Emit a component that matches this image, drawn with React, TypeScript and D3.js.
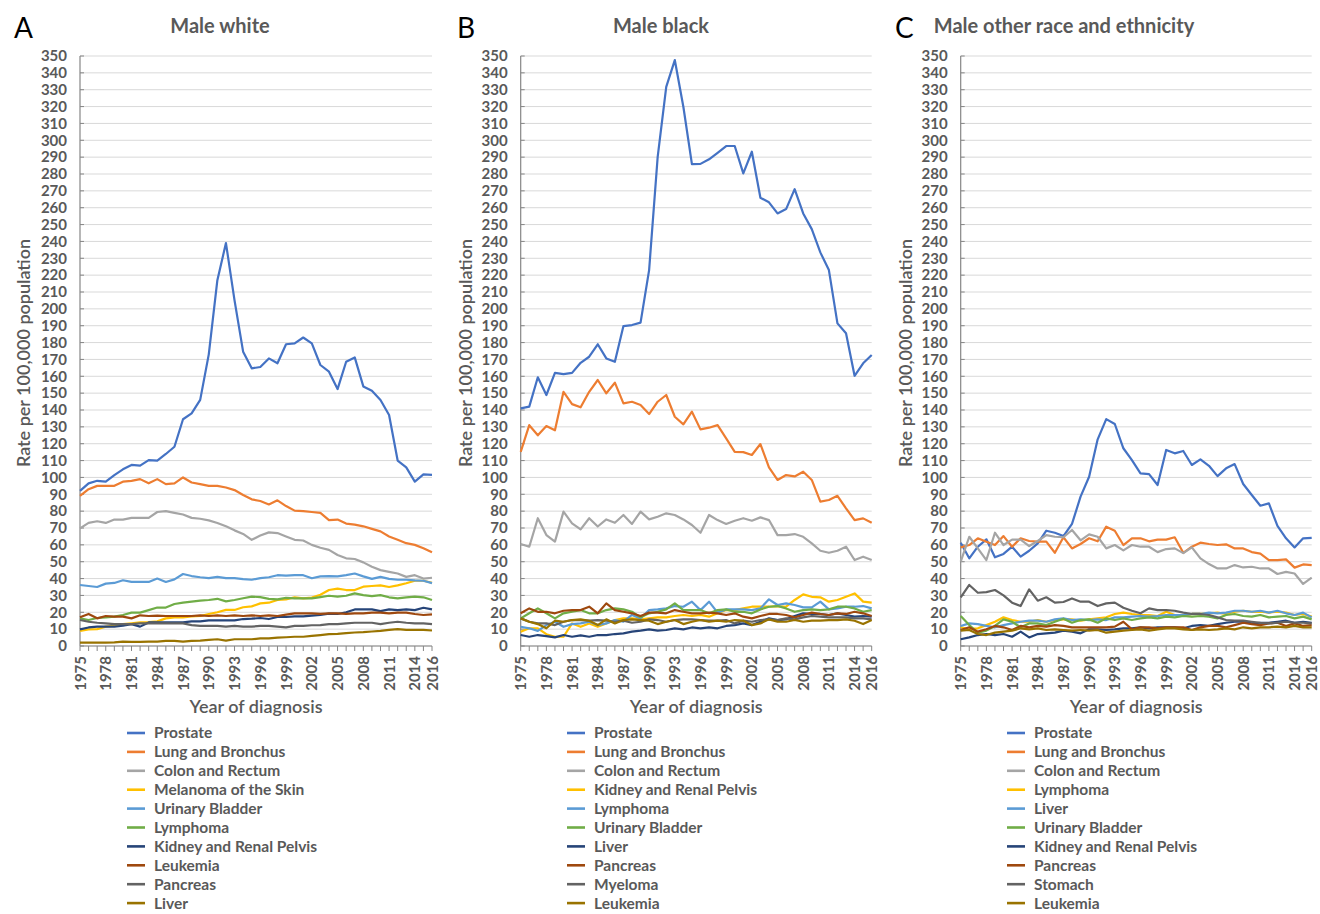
import React from "react";
import * as d3 from "d3";

// categories
const years = [
  1975, 1976, 1977, 1978, 1979, 1980, 1981, 1982, 1983, 1984, 1985, 1986, 1987, 1988,
  1989, 1990, 1991, 1992, 1993, 1994, 1995, 1996, 1997, 1998, 1999, 2000, 2001, 2002,
  2003, 2004, 2005, 2006, 2007, 2008, 2009, 2010, 2011, 2012, 2013, 2014, 2015, 2016,
];
const tickYears = [1975, 1978, 1981, 1984, 1987, 1990, 1993, 1996, 1999, 2002, 2005, 2008, 2011, 2014, 2016];

const palette = ["#4472C4", "#ED7D31", "#A5A5A5", "#FFC000", "#5B9BD5", "#70AD47", "#264478", "#9E480E", "#636363", "#997300"];

// ---- Panel A: male white
const namesA = ["Prostate", "Lung and Bronchus", "Colon and Rectum", "Melanoma of the Skin", "Urinary Bladder", "Lymphoma", "Kidney and Renal Pelvis", "Leukemia", "Pancreas", "Liver"];
const prostateA = [92, 96.5, 98, 97.5, 101.4, 104.8, 107.4, 107, 110.3, 110, 113.9, 118.2, 134.5, 138, 146, 173, 217, 239, 205, 174.6, 164.7, 165.5, 170.6, 167.7, 179, 179.5, 183, 179.5, 166.7, 162.7, 152.4, 168.6, 171.2, 154, 151.4, 145.9, 137, 110, 106, 97.5, 101.8, 101.5];
const lungA = [89, 93, 95, 95, 95, 97.5, 98, 99, 96.5, 99, 96, 96.5, 100, 97, 96, 95, 95, 94, 92.5, 89.6, 87, 86, 84, 86.4, 83, 80.3, 80, 79.5, 79, 74.7, 75, 72.6, 72, 71, 69.5, 68, 65, 63, 61, 60, 58, 55.6];
const colonA = [69.8, 73, 74, 73, 75, 75, 76, 76, 76, 79.5, 80, 79, 78, 76, 75.5, 74.5, 73, 71, 68.6, 66.5, 63, 65.5, 67.4, 67, 65, 63, 62.6, 60, 58.3, 57, 54, 52, 51.6, 49.6, 47, 45, 44, 43, 41, 42, 40, 40.5];
const melanomaA = [8.9, 9.9, 10, 11.5, 12, 13, 13.5, 14, 14.2, 14.6, 16.4, 17, 17, 17.5, 17.8, 19, 20, 21.4, 21.4, 23, 23.5, 25.3, 25.7, 27.3, 27.7, 28.9, 28.3, 28.7, 30.4, 33.2, 34, 33.2, 33.2, 35.2, 35.6, 36, 35, 36, 37.2, 38.7, 38.7, 37.5];
const bladderA = [36.2, 35.6, 35, 37, 37.4, 39, 38, 38, 38, 40, 38, 39.5, 42.7, 41.5, 40.8, 40.3, 41, 40.3, 40.3, 39.7, 39.3, 40.3, 40.8, 42, 41.7, 42, 42, 40.2, 41.3, 41.5, 41.3, 42, 43, 41.3, 39.8, 41, 39.8, 39.3, 39.3, 38.9, 38.7, 37.3];
const lymphomaA = [16.4, 15.4, 16.6, 17, 17.4, 18.4, 19.8, 19.8, 21.3, 22.8, 22.8, 24.9, 25.7, 26.3, 26.9, 27.3, 28, 26.5, 27.3, 28.3, 29.3, 29, 28, 27.7, 28.5, 28.3, 28.3, 28.3, 29, 29.8, 29.3, 29.8, 31.2, 30.2, 29.6, 30.2, 28.9, 28.3, 28.9, 29.3, 28.9, 27.3];
const kidneyA = [9.9, 11, 11.5, 11.5, 11.5, 12, 13, 11.5, 14, 14, 14, 14, 14, 14.6, 14.6, 15.2, 15.2, 15.2, 15.2, 16, 16.2, 16.6, 16, 17.2, 17.2, 17.6, 17.6, 18, 18.4, 19.2, 19, 20, 21.7, 21.7, 21.7, 20.7, 21.7, 21.3, 21.7, 21.3, 22.7, 21.7];
const leukemiaA = [17, 19, 16.4, 17.8, 17.4, 17.4, 16.4, 18.2, 17.8, 18, 17.8, 17.8, 17.8, 17.8, 18.2, 17.8, 18.2, 17.8, 18.2, 17.8, 18.2, 17.8, 18.2, 17.8, 18.6, 19.4, 19.4, 19.4, 19, 19.4, 19.4, 19, 19.4, 19.4, 19.8, 19.8, 19.4, 19.8, 19.8, 19, 18.4, 18.8];
const pancreasA = [15.4, 14.4, 13.8, 13.4, 13, 13, 13, 13.4, 13.4, 13.4, 13.4, 13.4, 13.4, 12.4, 11.9, 11.9, 11.9, 11.5, 11.9, 11.5, 11.5, 11.9, 11.9, 11.5, 11, 11.9, 11.9, 12.3, 12.4, 13, 13, 13.4, 13.8, 13.8, 13.8, 13, 13.8, 14.4, 13.8, 13.4, 13.4, 13];
const liverA = [2, 2, 2, 2, 2.2, 2.6, 2.4, 2.4, 2.6, 2.6, 3, 3, 2.6, 3, 3.2, 3.6, 4, 3.2, 4, 4, 4, 4.5, 4.5, 5, 5.2, 5.5, 5.5, 6, 6.5, 7, 7.2, 7.6, 8, 8.2, 8.6, 9, 9.6, 10, 9.6, 9.6, 9.6, 9.2];

// ---- Panel B: male black
const namesB = ["Prostate", "Lung and Bronchus", "Colon and Rectum", "Kidney and Renal Pelvis", "Lymphoma", "Urinary Bladder", "Liver", "Pancreas", "Myeloma", "Leukemia"];
const prostateB = [141, 142, 159.4, 148.9, 162, 161.3, 162, 168, 171.6, 179, 170.6, 168.6, 189.8, 190.4, 191.8, 223, 290.2, 331.7, 347.6, 319.9, 285.9, 286, 288.7, 292.6, 296.6, 296.6, 280.4, 293.2, 265.9, 263.2, 256.6, 259.2, 271, 256.6, 247.3, 233.5, 223, 191.4, 185.5, 160.3, 167.7, 172.6];
const lungB = [115.2, 131, 125, 130.5, 128, 150.8, 143.5, 141.6, 150.8, 157.8, 149.9, 156.2, 143.9, 144.9, 143, 137.6, 144.9, 148.9, 136, 131.5, 139, 128.5, 129.5, 131, 123.2, 115.2, 115, 113.3, 119.8, 106, 98.5, 101.4, 100.6, 103.4, 98.5, 85.6, 86.6, 89.1, 81.7, 74.7, 75.7, 73.1];
const colonB = [60.5, 58.9, 75.8, 65.8, 61.9, 79.7, 72.8, 69.2, 75.8, 70.9, 75.1, 73.1, 77.7, 72.4, 79.7, 75.1, 76.7, 78.7, 77.7, 75.1, 71.8, 67.2, 77.7, 74.7, 72.4, 74.3, 75.8, 74.3, 76.3, 74.7, 65.8, 65.8, 66.4, 64.8, 60.9, 56.5, 55.3, 56.5, 58.9, 51, 53, 51];
const kidneyB = [8.5, 10.5, 10.5, 7, 5.5, 5.5, 13.4, 11.4, 13.4, 11.4, 13.4, 15.4, 16.4, 16.4, 15.8, 16.4, 17, 17, 17.8, 18.4, 17.8, 18.4, 17.4, 19.4, 21.3, 21.3, 22.3, 23.3, 23.3, 23.3, 23.7, 23.3, 27.3, 30.6, 29.2, 28.9, 26.3, 27.3, 29.2, 31.2, 26.3, 25.7];
const lymphomaB = [11.4, 10.5, 9, 12.4, 14.4, 11.4, 13, 13.4, 14.4, 12.4, 13.4, 15.4, 14.4, 18.4, 16.4, 21.3, 21.7, 22.3, 23.7, 23.3, 26.3, 21.3, 26.3, 19.8, 21.7, 21.7, 21.7, 21.3, 22.3, 27.7, 24.3, 25.3, 24.3, 22.9, 22.9, 26.3, 21.7, 22.3, 23.3, 23.3, 23.7, 22.3];
const bladderB = [16.4, 19.4, 22.3, 19.4, 16.4, 19.4, 20.3, 21.3, 19.4, 19.4, 21.3, 22.3, 21.7, 20.3, 17, 19.4, 20.3, 21.7, 25.3, 21.3, 21.3, 21.3, 19.4, 21.3, 21.7, 20.3, 20.3, 19.4, 21.7, 23.3, 23.7, 22.3, 20.3, 21.3, 21.7, 21.3, 21.7, 23.3, 23.3, 22.3, 20.3, 21.3];
const liverB = [6.5, 5.5, 6.5, 5.9, 5.1, 6.5, 5.5, 6.3, 5.5, 6.5, 6.5, 7.1, 7.5, 8.5, 9.1, 9.9, 9.1, 9.5, 10.5, 9.9, 11, 10.5, 11, 10.5, 11.9, 12.4, 13.4, 12.4, 14.4, 16.4, 15.4, 15.8, 17.8, 19.4, 19, 19, 18.4, 19.4, 18.4, 17.4, 17.8, 17.4];
const pancreasB = [19.4, 22.3, 20.3, 20.3, 19.4, 20.9, 21.3, 21.3, 23.3, 19.4, 25.3, 21.3, 20.3, 19.4, 17.8, 19.8, 19.8, 19.4, 21.3, 20.3, 19.4, 19.4, 19.8, 19.4, 18.4, 19.4, 17.4, 16.4, 17.8, 19, 19, 18.4, 17, 18.4, 19.8, 19, 18.4, 19.4, 19, 20.3, 19.4, 17.8];
const myelomaB = [16.4, 14.4, 13.4, 13.4, 12.4, 14.4, 15.4, 15.4, 15, 15.4, 15, 14.4, 15, 13.8, 14.4, 15.8, 15.4, 14.4, 15.4, 15.8, 15.8, 15.4, 15, 15, 15.4, 13.4, 15, 14.4, 15.4, 15.8, 15.4, 16.4, 15.8, 17, 17.8, 17.4, 17, 17, 17, 16.4, 16.4, 15.8];
const leukemiaB = [16.4, 14.4, 13, 10.5, 15, 14.4, 15.4, 15.8, 15, 12.4, 15.8, 13.4, 15.4, 15.8, 15.4, 15, 13, 14.4, 15.4, 13, 14.4, 15.4, 14.4, 15, 14.4, 15.4, 15, 12.4, 13.4, 15.8, 14.4, 14.4, 15.4, 14.4, 15, 15, 15.4, 15.4, 15.8, 15, 13, 15.4];

// ---- Panel C: male other race and ethnicity
const namesC = ["Prostate", "Lung and Bronchus", "Colon and Rectum", "Lymphoma", "Liver", "Urinary Bladder", "Kidney and Renal Pelvis", "Pancreas", "Stomach", "Leukemia"];
const prostateC = [61.3, 52, 58.9, 63.3, 52.6, 54.6, 58.9, 53, 56.5, 60.9, 68.4, 67.2, 65.2, 72.4, 88.6, 100.4, 122.6, 134.6, 131.7, 117.3, 110.3, 102.4, 102, 95.5, 116.3, 114.3, 115.7, 107.4, 110.7, 106.9, 100.8, 105.4, 107.9, 96.1, 89.6, 83.2, 84.6, 71.2, 63.9, 58.5, 63.9, 64.2];
const lungC = [58.5, 59.9, 63.9, 61.9, 59.9, 65.2, 58.9, 63.9, 62.3, 61.9, 61.9, 55.3, 64.5, 57.9, 60.5, 63.9, 62.1, 70.8, 68.4, 59.9, 63.9, 63.9, 62.1, 63.1, 63.1, 64.5, 55.3, 58.9, 61.3, 60.5, 59.9, 60.3, 57.9, 57.9, 55.7, 54.8, 51, 51, 51.4, 46.5, 48.4, 48];
const colonC = [50, 64.8, 57.9, 51, 67.2, 59.9, 63.1, 63.1, 59.3, 62.3, 65.8, 64.8, 64.5, 68.8, 62.7, 66.2, 64.8, 57.9, 59.9, 56.7, 59.9, 58.9, 58.9, 55.7, 57.5, 57.9, 55.1, 58.5, 52, 48.6, 46, 46, 48, 46.6, 47, 46, 46, 42.7, 44, 43, 36.8, 40.5];
const lymphomaC = [11.1, 10, 10.5, 12.4, 14.4, 17, 15.4, 14.4, 14.4, 15.4, 14.4, 15.4, 15.8, 15.8, 15, 15.8, 16.4, 17, 19, 19.8, 19, 18.4, 18.4, 17.8, 20.3, 18.4, 17.8, 19, 19, 19.4, 19.8, 19, 20.3, 20.9, 20.3, 20.3, 19.8, 20.3, 19.8, 18.4, 19, 17.4];
const liverC = [11.9, 13.4, 13, 11.9, 11.1, 12.4, 13.4, 14.4, 15, 15, 14.4, 15.8, 16.4, 15.4, 15.8, 15.4, 15.8, 15.4, 17, 17, 17.4, 17.8, 17.4, 17.8, 18.4, 18.4, 18.4, 19, 19, 19.8, 19.4, 19.8, 20.9, 20.9, 20.3, 20.9, 19.8, 20.9, 19.4, 18.4, 19.8, 17];
const bladderC = [17.8, 12.4, 7.9, 9.1, 11.9, 15.8, 14.4, 11.1, 13.4, 13.4, 12.4, 14.4, 16.2, 13.8, 15.4, 15.8, 13.8, 16.4, 15.4, 16.4, 15.4, 16.4, 17, 16.4, 17.4, 17, 17.8, 17.4, 17.8, 17.4, 16.4, 18.4, 19, 17.8, 17.4, 18.4, 17, 17.4, 17.8, 16.4, 17.4, 15.8];
const kidneyC = [4, 5.1, 6.5, 7.1, 6.5, 7.1, 5.5, 8.5, 5.1, 7.1, 7.5, 7.9, 9.1, 8.5, 7.5, 9.9, 9.9, 9.5, 9.9, 10.5, 10.5, 11.1, 10.5, 11.1, 11.1, 11.1, 10.5, 11.9, 12.4, 11.9, 13, 13.8, 14.4, 14.4, 13.4, 13.8, 13.8, 14.4, 15, 13.8, 14.4, 13.8];
const pancreasC = [9.5, 11.1, 8.5, 9.9, 11.9, 11.1, 9.5, 11.9, 11.1, 11.9, 11.5, 12.4, 11.9, 11.1, 11.1, 11.1, 11.1, 11.1, 11.5, 14.4, 9.9, 11.1, 11.1, 10.5, 11.1, 11.1, 11.1, 9.5, 11.1, 11.9, 11.9, 11.1, 12.4, 13.8, 13, 12.4, 13.4, 13.8, 11.9, 13.4, 11.9, 12.4];
const stomachC = [28.9, 36.2, 31.6, 32, 33.2, 30, 25.7, 23.7, 33.6, 26.9, 28.9, 25.7, 26.1, 28.2, 26.3, 26.3, 23.7, 25.3, 25.7, 22.7, 20.9, 19.4, 22.3, 21.3, 21.3, 20.9, 19.8, 19, 19, 18.4, 17, 15.4, 15, 15, 14.4, 13.8, 13.4, 13.8, 14.4, 13.8, 13.8, 13.4];
const leukemiaC = [9.1, 9.5, 7.1, 6.5, 7.9, 8.5, 9.1, 10.5, 9.9, 10.5, 9.5, 9.9, 9.5, 9.1, 9.5, 9.1, 9.5, 7.9, 8.5, 9.1, 9.5, 9.9, 9.1, 9.9, 10.5, 10.5, 9.9, 9.5, 9.9, 9.5, 9.9, 10.5, 9.9, 11.1, 10.5, 11.1, 11.1, 11.5, 11.1, 11.9, 11.1, 11.1];

const seriesA = [prostateA, lungA, colonA, melanomaA, bladderA, lymphomaA, kidneyA, leukemiaA, pancreasA, liverA];
const seriesB = [prostateB, lungB, colonB, kidneyB, lymphomaB, bladderB, liverB, pancreasB, myelomaB, leukemiaB];
const seriesC = [prostateC, lungC, colonC, lymphomaC, liverC, bladderC, kidneyC, pancreasC, stomachC, leukemiaC];

// layout
const W = 1320;
const H = 914;
const plotTop = 56;
const plotBottom = 646;
const FONT = "Lato, 'Open Sans', sans-serif";
const TEXT = "#595959";

const panels = [
  { letter: "A", title: "Male white", names: namesA, series: seriesA, x0: 80, x1: 432, letterX: 14, titleX: 220, yTitleX: 24, legendX: 127 },
  { letter: "B", title: "Male black", names: namesB, series: seriesB, x0: 520.7, x1: 871.7, letterX: 457, titleX: 661, yTitleX: 466, legendX: 567 },
  { letter: "C", title: "Male other race and ethnicity", names: namesC, series: seriesC, x0: 960.7, x1: 1311.7, letterX: 895, titleX: 1064, yTitleX: 906, legendX: 1007 },
];

const y = d3.scaleLinear().domain([0, 350]).range([plotBottom, plotTop]);
const yTicks = y.ticks(35);

function Panel({ p }: { p: (typeof panels)[number] }) {
  const x = d3.scalePoint<number>().domain(years).range([p.x0, p.x1]);
  const line = d3
    .line<number>()
    .x((_, i) => x(years[i]) as number)
    .y((d) => y(d));
  const cx = (p.x0 + p.x1) / 2;
  const legendY = 733;
  const legendStep = 18.9;

  return (
    <g>
      <text x={p.letterX} y={38} fontSize={28} fill="#000" fontFamily={FONT}>
        {p.letter}
      </text>
      <text x={p.titleX} y={33} fontSize={20} fontWeight={700} fill={TEXT} textAnchor="middle" fontFamily={FONT}>
        {p.title}
      </text>

      {/* grid */}
      {yTicks.map((t) => (
        <g key={t}>
          <line x1={p.x0} x2={p.x1} y1={y(t)} y2={y(t)} stroke="#D9D9D9" strokeWidth={1} />
          <line x1={p.x0} x2={p.x0 + 4} y1={y(t)} y2={y(t)} stroke="#868686" strokeWidth={1} />
          <text x={p.x0 - 13} y={y(t)} dy="0.35em" textAnchor="end" fontSize={15} fontWeight={700} fill={TEXT} fontFamily={FONT}>
            {t}
          </text>
        </g>
      ))}

      {/* axes */}
      <line x1={p.x0} x2={p.x0} y1={plotTop} y2={plotBottom} stroke="#868686" strokeWidth={1.2} />
      <line x1={p.x0} x2={p.x1} y1={plotBottom} y2={plotBottom} stroke="#868686" strokeWidth={1.2} />
      {years.map((yr) => (
        <line key={yr} x1={x(yr)} x2={x(yr)} y1={plotBottom} y2={plotBottom + 5} stroke="#868686" strokeWidth={1} />
      ))}
      {tickYears.map((yr) => (
        <text
          key={yr}
          transform={`translate(${(x(yr) as number) + 5.5},${plotBottom + 10}) rotate(-90)`}
          textAnchor="end"
          fontSize={15}
          fontWeight={700}
          fill={TEXT}
          fontFamily={FONT}
        >
          {yr}
        </text>
      ))}

      {/* series */}
      {p.series.map((vals, i) => (
        <path key={i} d={line(vals) || ""} fill="none" stroke={palette[i]} strokeWidth={2.2} strokeLinejoin="round" />
      ))}

      {/* axis titles */}
      <text x={cx} y={713} textAnchor="middle" fontSize={18} fontWeight={600} fill={TEXT} fontFamily={FONT}>
        Year of diagnosis
      </text>
      <text
        transform={`translate(${p.yTitleX + 6},${(plotTop + plotBottom) / 2 + 2}) rotate(-90)`}
        textAnchor="middle"
        fontSize={18}
        fontWeight={600}
        fill={TEXT}
        fontFamily={FONT}
      >
        Rate per 100,000 population
      </text>

      {/* legend */}
      {p.names.map((name, i) => (
        <g key={name} transform={`translate(${p.legendX},${legendY + i * legendStep})`}>
          <line x1={0} x2={18} y1={0} y2={0} stroke={palette[i]} strokeWidth={2.6} />
          <text x={27} y={0} dy="0.35em" fontSize={15.5} fontWeight={700} fill={TEXT} fontFamily={FONT}>
            {name}
          </text>
        </g>
      ))}
    </g>
  );
}

export default function App() {
  return (
    <div>
      <style>{`body { margin: 0; background: #fff; }`}</style>
      <svg width={W} height={H} viewBox={`0 0 ${W} ${H}`} style={{ display: "block" }}>
        <rect width={W} height={H} fill="#fff" />
        {panels.map((p) => (
          <Panel key={p.letter} p={p} />
        ))}
      </svg>
    </div>
  );
}
